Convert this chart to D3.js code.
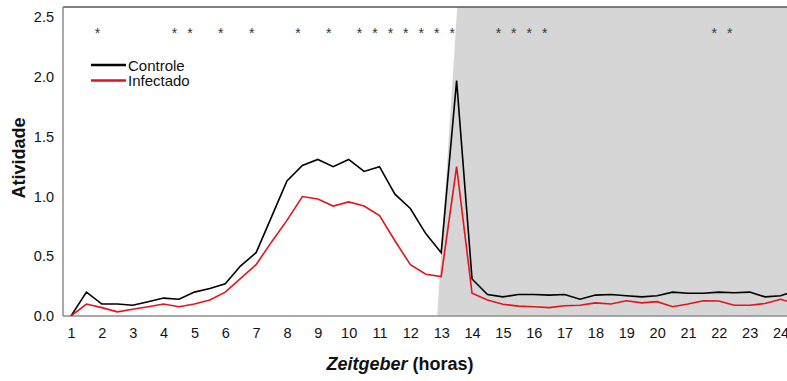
<!DOCTYPE html>
<html>
<head>
<meta charset="utf-8">
<script src="https://cdn.jsdelivr.net/npm/d3@7"></script>
<style>
  html, body { margin: 0; padding: 0; background: #fff; }
  svg { display: block; font-family: Arial, "Liberation Sans", sans-serif; }
</style>
</head>
<body>
<svg id="chart" width="787" height="381"></svg>
<script>
// Zeitgeber hours, sampled every 30 minutes
const hours = d3.range(1, 25, 0.5);

const controle = [
  0.00, 0.20, 0.10, 0.10, 0.09, 0.12, 0.15, 0.14, 0.20, 0.23,
  0.27, 0.42, 0.53, 0.83, 1.13, 1.26, 1.31, 1.25, 1.31, 1.21,
  1.25, 1.02, 0.90, 0.69, 0.53, 1.97, 0.31, 0.18, 0.16, 0.18,
  0.18, 0.175, 0.18, 0.14, 0.175, 0.18, 0.17, 0.16, 0.17, 0.20,
  0.19, 0.19, 0.20, 0.195, 0.20, 0.16, 0.17, 0.21
];

const infectado = [
  0.00, 0.10, 0.07, 0.035, 0.056, 0.078, 0.10, 0.078, 0.10, 0.134,
  0.20, 0.315, 0.43, 0.62, 0.80, 1.00, 0.98, 0.92, 0.955, 0.92,
  0.84, 0.63, 0.43, 0.35, 0.33, 1.25, 0.19, 0.134, 0.098, 0.083,
  0.078, 0.07, 0.086, 0.09, 0.11, 0.10, 0.128, 0.11, 0.12, 0.078,
  0.10, 0.128, 0.125, 0.09, 0.09, 0.105, 0.14, 0.10
];

// Hours flagged as significantly different between groups
const signifHours = [2, 4.5, 5, 6, 7, 8.5, 9.5, 10.5, 11, 11.5, 12, 12.5, 13, 13.5,
                     15, 15.5, 16, 16.5, 22, 22.5];

const xTicks = d3.range(1, 25);
const yTicks = [0, 0.5, 1.0, 1.5, 2.0, 2.5];

// Dark phase (lights off) boundary, bottom and top edge
const darkStartBottom = 12.87;
const darkStartTop = 13.52;

const seriesNames = ["Controle", "Infectado"];
const seriesColors = ["#000000", "#e3141b"];

const svg = d3.select("#chart");
const mLeft = 63, mRight = 787, mTop = 7, mBottom = 316;

const x = d3.scaleLinear().domain([0.74, 24.21]).range([mLeft, mRight]);
const y = d3.scaleLinear().domain([0, 2.5]).range([mBottom, 17.3]);

svg.append("defs").append("clipPath").attr("id", "plot-clip")
  .append("rect").attr("x", mLeft).attr("y", mTop)
  .attr("width", mRight - mLeft).attr("height", mBottom - mTop);

// dark phase shading
svg.append("path")
  .attr("d", `M${x(darkStartBottom)},${mBottom} L${x(darkStartTop)},${mTop} L${mRight},${mTop} L${mRight},${mBottom} Z`)
  .attr("fill", "#d6d6d6");

// top frame line
svg.append("line")
  .attr("x1", mLeft).attr("x2", mRight).attr("y1", mTop).attr("y2", mTop)
  .attr("stroke", "#555").attr("stroke-width", 1.5);

// axes
const yAxis = svg.append("g")
  .attr("transform", `translate(${mLeft},0)`)
  .call(d3.axisLeft(y).tickValues(yTicks).tickSize(0).tickPadding(9).tickFormat(d3.format(".1f")));
yAxis.select(".domain").remove();
svg.append("line").attr("x1", mLeft).attr("x2", mLeft).attr("y1", mTop).attr("y2", mBottom)
  .attr("stroke", "#8c8c8c").attr("stroke-width", 1.5);

const xAxis = svg.append("g")
  .attr("transform", `translate(0,${mBottom})`)
  .call(d3.axisBottom(x).tickValues(xTicks).tickSize(0).tickPadding(12).tickFormat(d3.format("d")));
xAxis.select(".domain").remove();
svg.append("line").attr("x1", mLeft).attr("x2", mRight).attr("y1", mBottom).attr("y2", mBottom)
  .attr("stroke", "#8c8c8c").attr("stroke-width", 1.5);

svg.selectAll(".tick text")
  .attr("font-size", 14.5)
  .attr("font-family", "Arial, 'Liberation Sans', sans-serif")
  .attr("fill", "#111");

// series lines
const line = d3.line().x((d, i) => x(hours[i])).y(d => y(d));
const plot = svg.append("g").attr("clip-path", "url(#plot-clip)");
[controle, infectado].forEach((vals, k) => {
  plot.append("path")
    .datum(vals)
    .attr("d", line)
    .attr("fill", "none")
    .attr("stroke", seriesColors[k])
    .attr("stroke-width", 1.6)
    .attr("stroke-linejoin", "miter");
});

// significance markers
svg.append("g").selectAll("text")
  .data(signifHours)
  .join("text")
  .attr("x", d => x(d) - 4.5)
  .attr("y", 38)
  .attr("text-anchor", "middle")
  .attr("font-size", 14)
  .attr("fill", "#333")
  .text("*");

// legend
const legend = svg.append("g");
seriesNames.forEach((name, i) => {
  const ly = 65 + i * 15.5;
  legend.append("line")
    .attr("x1", 91).attr("x2", 126).attr("y1", ly).attr("y2", ly)
    .attr("stroke", seriesColors[i]).attr("stroke-width", 2.5);
  legend.append("text")
    .attr("x", 128).attr("y", ly + 5.5)
    .attr("font-size", 15)
    .attr("fill", "#111")
    .text(name);
});

// axis titles
svg.append("text")
  .attr("transform", "translate(24.5,158) rotate(-90)")
  .attr("text-anchor", "middle")
  .attr("font-size", 18)
  .attr("font-weight", "bold")
  .attr("fill", "#111")
  .text("Atividade");

const xt = svg.append("text")
  .attr("x", 400).attr("y", 370)
  .attr("text-anchor", "middle")
  .attr("font-size", 18)
  .attr("font-weight", "bold")
  .attr("fill", "#111");
xt.append("tspan").attr("font-style", "italic").text("Zeitgeber");
xt.append("tspan").text(" (horas)");
</script>
</body>
</html>
